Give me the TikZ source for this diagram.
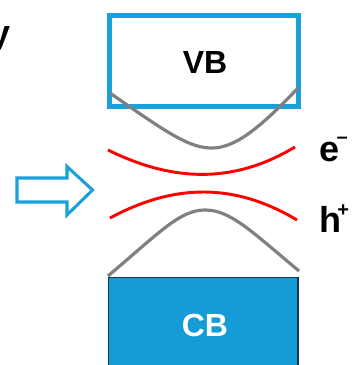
\documentclass[tikz,border=0pt]{standalone}
\usepackage{fontspec}
\setmainfont{Liberation Sans}
\definecolor{boxblue}{HTML}{1AA0DA}
\definecolor{cbfill}{HTML}{159CD6}
\definecolor{cbedge}{HTML}{0B3A50}
\definecolor{bandgray}{HTML}{808080}
\definecolor{statered}{HTML}{FF0000}
\begin{document}
\begin{tikzpicture}[x=0.75pt,y=-0.75pt,
  bandlbl/.style={font=\fontsize{24}{28}\selectfont\bfseries, inner sep=0pt},
  sidelbl/.style={font=\fontsize{27}{30}\selectfont\bfseries, inner sep=0pt},
  graycurve/.style={draw=bandgray, line width=2.4pt},
  redcurve/.style={draw=statered, line width=2.2pt},
  vbbox/.style={draw=boxblue, line width=3.75pt, fill=white},
  cbbox/.style={draw=cbedge, line width=1.2pt, fill=cbfill}]
\useasboundingbox (0,0) rectangle (351,365);
% partial label at top left
\node[sidelbl, anchor=base east] (ylbl) at (10.5,45) {y};
% VB box
\draw[vbbox] (109.5,15.5) rectangle (298,106);
\node[bandlbl] (vb) at (205,62) {VB};
% upper gray band
\draw[graycurve] (110,93) .. controls (170,135) and (190,148) .. (212,148)
  .. controls (235,148) and (260,128) .. (298,88);
% red states
\draw[redcurve] (108,150) .. controls (175,183) and (235,183) .. (295,147);
\draw[redcurve] (110,218) .. controls (175,183) and (235,183) .. (297,220);
% CB box
\draw[cbbox] (108.5,277.5) rectangle (298,370);
\node[bandlbl, text=white] (cb) at (205,325) {CB};
% lower gray band
\draw[graycurve] (108,276) .. controls (160,232) and (180,210) .. (205,210)
  .. controls (230,210) and (250,230) .. (299,271);
% arrow
\draw[boxblue, line width=2.3pt, line join=miter] (17,178) -- (67,178) -- (67,166.5) -- (92.5,190) -- (67,215) -- (67,202) -- (17,202) -- cycle;
% labels
\node[sidelbl, anchor=base west] (elbl) at (319,161) {e\kern-2pt\raisebox{0.5em}{\fontsize{15}{15}\selectfont –}};
\node[sidelbl, anchor=base west] (hlbl) at (319,232) {h\kern-3pt\raisebox{0.42em}{\fontsize{15}{15}\selectfont +}};
\end{tikzpicture}
\end{document}
